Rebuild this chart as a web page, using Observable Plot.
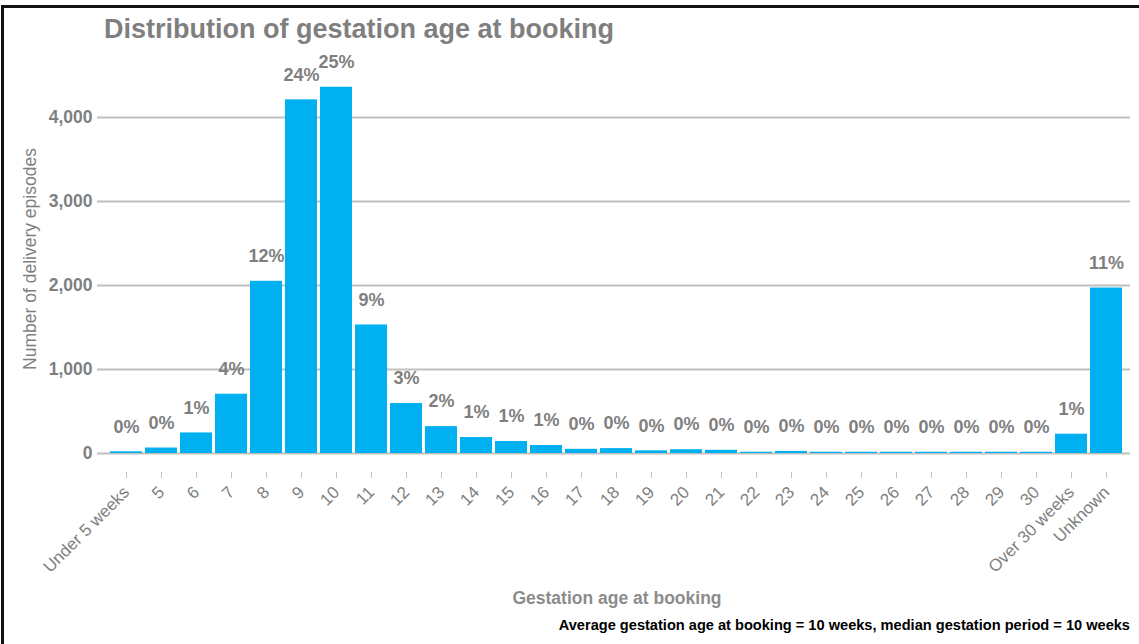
<!DOCTYPE html>
<html>
<head>
<meta charset="utf-8">
<script src="https://cdn.jsdelivr.net/npm/d3@7"></script>
<script src="https://cdn.jsdelivr.net/npm/@observablehq/plot@0.6"></script>
<style>
  html, body { margin: 0; padding: 0; background: #fff; }
  #wrap { position: relative; width: 1139px; height: 644px; overflow: hidden; font-family: "Liberation Sans", Arial, sans-serif; }
  #wrap svg { position: absolute; left: 0; top: 0; }
  .frame { position: absolute; left: 1px; top: 5px; width: 1200px; height: 700px; border-left: 3px solid #111; border-top: 3px solid #111; }
  .title { position: absolute; left: 104px; top: 14px; font-size: 27px; font-weight: bold; color: #7f7f7f; white-space: nowrap; }
  .ylabel { position: absolute; left: 30px; top: 259px; transform: translate(-50%, -50%) rotate(-90deg); font-size: 17.5px; color: #7f7f7f; white-space: nowrap; }
  .xlabel { position: absolute; left: 617px; top: 588px; transform: translateX(-50%); font-size: 17.5px; font-weight: bold; color: #8c8c8c; white-space: nowrap; }
  .caption { position: absolute; right: 9px; top: 617px; font-size: 14.6px; font-weight: bold; color: #000; white-space: nowrap; }
</style>
</head>
<body>
<div id="wrap">
  <div class="frame"></div>
  <div class="title">Distribution of gestation age at booking</div>
  <div class="ylabel">Number of delivery episodes</div>
  <div class="xlabel">Gestation age at booking</div>
  <div class="caption">Average gestation age at booking = 10 weeks, median gestation period = 10 weeks</div>
</div>
<script>
const categories = ["Under 5 weeks", "5", "6", "7", "8", "9", "10", "11", "12", "13", "14", "15", "16", "17", "18", "19", "20", "21", "22", "23", "24", "25", "26", "27", "28", "29", "30", "Over 30 weeks", "Unknown"];
const episodes = [20, 65, 245, 706, 2050, 4210, 4360, 1530, 595, 320, 190, 143, 95, 50, 58, 32, 45, 38, 15, 25, 15, 15, 15, 15, 15, 15, 15, 230, 1970];
const percentLabels = ["0%", "0%", "1%", "4%", "12%", "24%", "25%", "9%", "3%", "2%", "1%", "1%", "1%", "0%", "0%", "0%", "0%", "0%", "0%", "0%", "0%", "0%", "0%", "0%", "0%", "0%", "0%", "1%", "11%"];
const yTicks = [0, 1000, 2000, 3000, 4000];

const data = categories.map((c, i) => ({cat: c, value: episodes[i], pct: percentLabels[i]}));

const chart = Plot.plot({
  width: 1139,
  height: 644,
  marginLeft: 97,
  marginRight: 9,
  marginTop: 75,
  marginBottom: 172,
  style: {fontFamily: "'Liberation Sans', Arial, sans-serif", background: "transparent"},
  x: {domain: categories, padding: 0.09, insetLeft: 6, insetRight: 2},
  y: {domain: [0, 4500], insetBottom: 19},
  marks: [
    Plot.ruleY(yTicks, {y: d => d, stroke: "#bfbfbf", strokeWidth: 2}),
    Plot.barY(data, {x: "cat", y: "value", fill: "#00b0f0"}),
    Plot.text(data, {x: "cat", y: "value", text: "pct", dy: -25, fill: "#7f7f7f", fontSize: 18, fontWeight: "bold"}),
    Plot.axisY({ticks: yTicks, tickFormat: d3.format(","), tickSize: 0, tickPadding: 5, label: null, color: "#7f7f7f", fontSize: 17.5, fontWeight: "bold"}),
    Plot.axisX({label: null, tickRotate: -45, tickSize: 6, tickPadding: 11, color: "#7f7f7f", stroke: "#bfbfbf", fontSize: 17})
  ]
});
document.getElementById("wrap").appendChild(chart);
</script>
</body>
</html>
